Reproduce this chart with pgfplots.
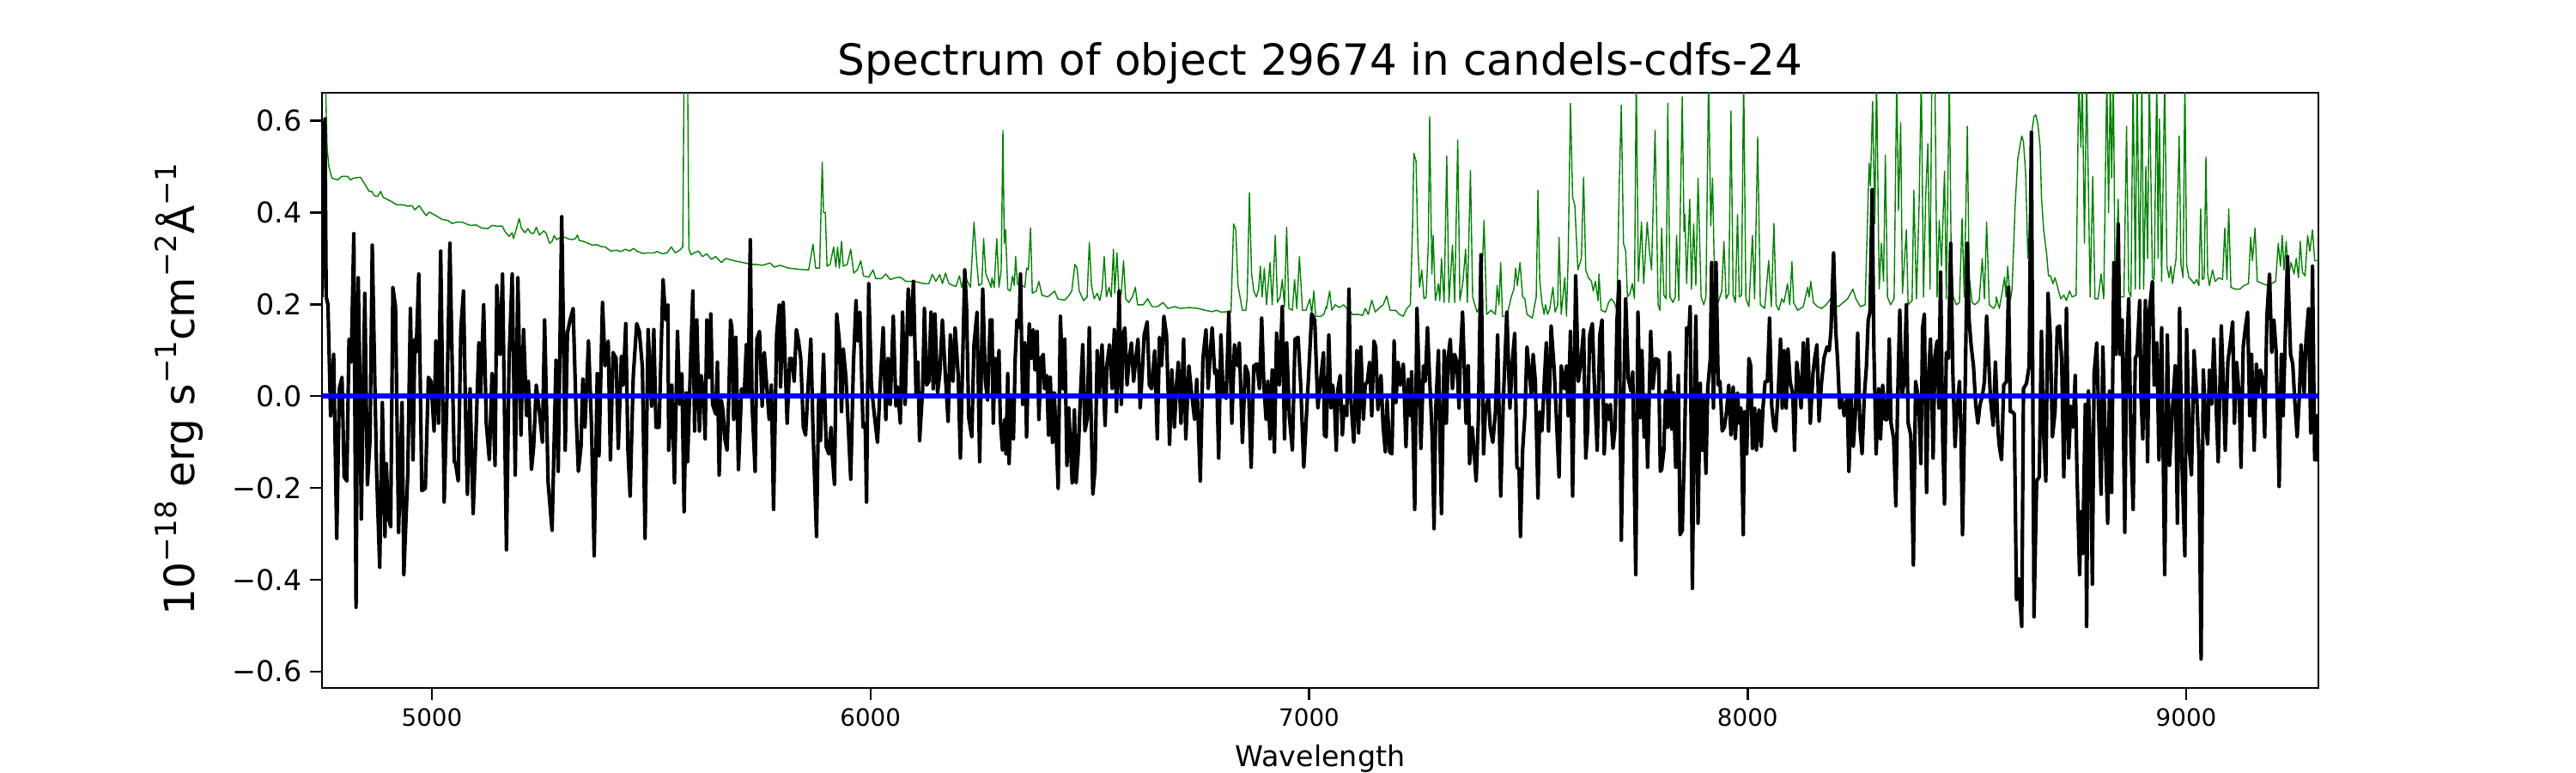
\documentclass[border=0pt]{standalone}
\usepackage{pgfplots}
\pgfplotsset{compat=1.18}
\usepackage{fontspec}
\setmainfont{DejaVu Sans}
\definecolor{mplgreen}{RGB}{0,128,0}
\newcommand\sups[1]{\raisebox{0.42em}{\fontsize{12.2pt}{12.2pt}\selectfont #1}}
\begin{document}
\begin{tikzpicture}
\path[use as bounding box] (0,0) rectangle (1080pt,324pt);
\begin{axis}[
  at={(135pt,35.64pt)}, anchor=south west,
  scale only axis, width=837pt, height=249.48pt,
  xmin=4749.4, xmax=9301.5, ymin=-0.636, ymax=0.661,
  axis line style={line width=0.9pt, black},
  tick align=outside, major tick length=5pt,
  every tick/.style={line width=0.9pt, black},
  xtick pos=bottom, ytick pos=left,
  xtick={5000,6000,7000,8000,9000},
  xticklabels={5000,6000,7000,8000,9000},
  ytick={-0.6,-0.4,-0.2,0,0.2,0.4,0.6},
  yticklabels={−0.6,−0.4,−0.2,0.0,0.2,0.4,0.6},
  scaled ticks=false,
  xticklabel style={font=\fontsize{10}{12}\selectfont},
  yticklabel style={font=\fontsize{12}{14}\selectfont},
  minor tick num=0,
  clip=true,
]
% green: error/sky spectrum
\addplot[mplgreen, line width=0.5pt, line join=round] coordinates {
(4749,0.70) (4757,0.70) (4761,0.542) (4765,0.500) (4772,0.475) (4785,0.471) (4795,0.479) (4808,0.479) (4814,0.471) (4821,0.475)
(4837,0.477) (4847,0.462) (4857,0.446) (4863,0.446) (4868,0.437) (4876,0.435) (4883,0.446) (4889,0.433) (4906,0.425) (4919,0.417)
(4932,0.417) (4945,0.414) (4955,0.415) (4961,0.406) (4971,0.415) (4981,0.401) (4987,0.393) (4994,0.401) (5004,0.396) (5013,0.391)
(5023,0.385) (5036,0.383) (5046,0.376) (5056,0.379) (5069,0.379) (5079,0.375) (5088,0.372) (5101,0.373) (5114,0.366) (5128,0.365)
(5137,0.372) (5150,0.370) (5160,0.371) (5167,0.358) (5176,0.348) (5183,0.356) (5186,0.343) (5193,0.366) (5199,0.387) (5204,0.366)
(5212,0.356) (5219,0.365) (5225,0.356) (5232,0.354) (5238,0.368) (5245,0.351) (5255,0.360) (5261,0.354) (5268,0.333) (5274,0.337)
(5279,0.350) (5284,0.341) (5294,0.346) (5304,0.346) (5310,0.343) (5320,0.341) (5327,0.343) (5332,0.351) (5336,0.339) (5346,0.337)
(5356,0.333) (5366,0.329) (5376,0.330) (5385,0.326) (5395,0.325) (5408,0.316) (5421,0.318) (5431,0.315) (5441,0.320) (5451,0.316)
(5460,0.322) (5467,0.316) (5480,0.311) (5493,0.312) (5506,0.312)
(5513,0.315) (5526,0.310) (5536,0.312) (5546,0.325) (5555,0.312) (5565,0.318) (5572,0.325) (5575,0.709) (5583,0.709) (5586,0.320)
(5591,0.308) (5598,0.312) (5608,0.316) (5617,0.304) (5627,0.310) (5637,0.298) (5647,0.304) (5660,0.291) (5670,0.300) (5689,0.295)
(5709,0.291) (5728,0.287) (5738,0.287) (5754,0.285) (5771,0.290) (5781,0.281) (5794,0.285) (5813,0.279) (5839,0.276) (5859,0.275)
(5869,0.331) (5875,0.279) (5884,0.279) (5890,0.510) (5893,0.400) (5897,0.400) (5901,0.283) (5908,0.287) (5916,0.325) (5921,0.281)
(5925,0.325) (5929,0.279) (5934,0.337) (5938,0.283) (5947,0.287) (5955,0.320) (5962,0.268) (5970,0.275) (5978,0.295) (5984,0.262)
(5996,0.259) (6006,0.275) (6012,0.256) (6025,0.256) (6035,0.266) (6045,0.254) (6058,0.258) (6068,0.259) (6081,0.250) (6100,0.250)
(6123,0.245) (6133,0.245) (6141,0.265) (6149,0.250) (6158,0.265) (6164,0.245) (6171,0.268) (6179,0.245) (6188,0.241) (6195,0.239)
(6203,0.262) (6208,0.237) (6215,0.266) (6221,0.250) (6228,0.237) (6236,0.379) (6243,0.283) (6247,0.241) (6254,0.245) (6258,0.343)
(6263,0.266) (6270,0.250) (6275,0.237)
(6277,0.258) (6282,0.237) (6288,0.343) (6293,0.237) (6298,0.275) (6302,0.579) (6305,0.333) (6308,0.362) (6313,0.233) (6319,0.229)
(6324,0.262) (6328,0.241) (6331,0.304) (6335,0.245) (6342,0.237) (6347,0.241) (6352,0.237) (6356,0.279) (6360,0.275) (6365,0.366)
(6369,0.224) (6378,0.229) (6384,0.250) (6391,0.220) (6404,0.216) (6414,0.224) (6420,0.229) (6427,0.212) (6443,0.209) (6453,0.220)
(6459,0.229) (6466,0.287) (6471,0.279) (6476,0.229) (6486,0.208) (6494,0.216) (6499,0.335) (6504,0.241) (6510,0.212) (6517,0.224)
(6523,0.208) (6528,0.233) (6533,0.304) (6538,0.216) (6544,0.237) (6549,0.216) (6554,0.320) (6557,0.224) (6562,0.312) (6567,0.216)
(6572,0.224) (6577,0.295) (6582,0.212) (6589,0.204) (6597,0.216) (6604,0.237) (6609,0.199) (6622,0.199) (6632,0.212) (6642,0.195)
(6655,0.195) (6667,0.204) (6678,0.191) (6694,0.195) (6707,0.191) (6727,0.193) (6747,0.191) (6763,0.187) (6779,0.184) (6789,0.187)
(6799,0.183) (6815,0.184) (6822,0.183) (6828,0.375) (6833,0.362) (6838,0.241) (6842,0.220) (6848,0.187) (6856,0.187) (6859,0.216)
(6864,0.443) (6869,0.266) (6874,0.229) (6880,0.216) (6885,0.233) (6889,0.283) (6893,0.216) (6898,0.279) (6903,0.199) (6911,0.291)
(6916,0.199) (6923,0.350) (6928,0.204) (6934,0.216) (6939,0.254) (6944,0.195) (6949,0.368) (6954,0.191) (6962,0.187) (6967,0.254)
(6972,0.191) (6978,0.304) (6985,0.187) (6993,0.187) (7002,0.212) (7006,0.179) (7011,0.229) (7015,0.174) (7027,0.174) (7034,0.179)
(7039,0.195)
(7040,0.191) (7047,0.229) (7052,0.187) (7060,0.199) (7069,0.193) (7079,0.199) (7086,0.191) (7099,0.178) (7112,0.178) (7122,0.176)
(7128,0.191) (7135,0.178) (7143,0.209) (7151,0.183) (7161,0.193) (7169,0.199) (7177,0.218) (7185,0.187) (7197,0.187) (7206,0.178)
(7215,0.174) (7223,0.191) (7231,0.199) (7236,0.366) (7239,0.529) (7244,0.512) (7248,0.333) (7252,0.237) (7257,0.275) (7262,0.212)
(7267,0.216) (7272,0.333) (7275,0.609) (7280,0.266) (7283,0.350) (7288,0.208) (7295,0.245) (7298,0.208) (7302,0.300) (7308,0.204)
(7314,0.523) (7319,0.204) (7327,0.329) (7332,0.204) (7339,0.558) (7344,0.208) (7351,0.250) (7357,0.320) (7361,0.204) (7368,0.492)
(7373,0.216) (7383,0.183) (7392,0.199) (7399,0.383) (7405,0.178) (7415,0.187) (7425,0.178) (7429,0.241) (7433,0.199) (7437,0.291)
(7441,0.174) (7451,0.174) (7461,0.216) (7467,0.233) (7471,0.279) (7475,0.241) (7481,0.291) (7487,0.216) (7492,0.212) (7497,0.178)
(7509,0.170) (7518,0.216) (7522,0.448) (7526,0.254) (7531,0.204) (7536,0.178) (7539,0.199) (7544,0.178) (7549,0.191) (7556,0.237)
(7561,0.183) (7567,0.199) (7570,0.346) (7575,0.178) (7583,0.258) (7587,0.174) (7591,0.308) (7596,0.638) (7601,0.433) (7606,0.416)
(7613,0.275) (7621,0.300) (7626,0.477) (7631,0.275) (7637,0.258) (7644,0.250) (7648,0.229) (7653,0.250) (7659,0.208) (7661,0.266)
(7666,0.187) (7676,0.183) (7683,0.204) (7689,0.212) (7696,0.204) (7702,0.187) (7707,0.450) (7712,0.634) (7717,0.333) (7722,0.316)
(7726,0.216) (7732,0.224) (7737,0.245) (7742,0.212) (7746,0.700) (7751,0.250) (7758,0.379) (7763,0.245) (7771,0.379) (7776,0.316)
(7781,0.275) (7789,0.579) (7796,0.199) (7800,0.187)
(7804,0.366) (7809,0.220) (7814,0.212) (7818,0.638) (7823,0.216) (7830,0.204) (7835,0.216) (7838,0.350) (7843,0.208) (7851,0.652)
(7855,0.358) (7857,0.396) (7861,0.245) (7868,0.429) (7872,0.233) (7877,0.375) (7882,0.241) (7887,0.475) (7894,0.216) (7900,0.199)
(7905,0.216) (7911,0.700) (7916,0.371) (7920,0.475) (7925,0.233) (7933,0.204) (7941,0.229) (7946,0.337) (7951,0.212) (7957,0.224)
(7962,0.621) (7967,0.220) (7972,0.204) (7977,0.396) (7981,0.216) (7986,0.220) (7991,0.700) (7996,0.212) (8003,0.195) (8011,0.350)
(8016,0.212) (8023,0.565) (8029,0.199) (8039,0.191) (8048,0.295) (8054,0.195) (8060,0.376) (8065,0.199) (8071,0.187) (8078,0.212)
(8083,0.204) (8091,0.245) (8096,0.199) (8101,0.293) (8105,0.204) (8114,0.187) (8127,0.195) (8137,0.237) (8140,0.216) (8144,0.250)
(8150,0.204) (8159,0.195) (8169,0.191) (8179,0.199) (8189,0.212) (8195,0.199) (8207,0.195) (8218,0.204) (8228,0.212) (8240,0.233)
(8247,0.212) (8257,0.195) (8268,0.199) (8277,0.508) (8280,0.458) (8285,0.642) (8290,0.375) (8294,0.700) (8300,0.233) (8305,0.333)
(8310,0.250) (8314,0.525) (8319,0.216) (8326,0.199) (8334,0.212) (8340,0.700) (8344,0.404) (8349,0.596) (8353,0.224) (8362,0.362)
(8366,0.199) (8375,0.208) (8379,0.448) (8385,0.212) (8391,0.416) (8396,0.700) (8401,0.216) (8406,0.433) (8411,0.550) (8416,0.233)
(8420,0.700) (8427,0.700) (8432,0.216) (8437,0.383) (8442,0.283) (8449,0.490) (8453,0.212) (8460,0.700) (8464,0.316) (8469,0.216)
(8476,0.199) (8483,0.204) (8489,0.387) (8494,0.216) (8501,0.588) (8505,0.262) (8512,0.204) (8518,0.199) (8528,0.208) (8535,0.300)
(8540,0.212) (8545,0.379) (8551,0.199) (8561,0.191) (8566,0.199)
(8567,0.216) (8574,0.191) (8580,0.224) (8586,0.259) (8589,0.216) (8593,0.283) (8599,0.208) (8603,0.233) (8610,0.416) (8616,0.517)
(8625,0.567) (8629,0.554) (8634,0.483) (8639,0.300) (8644,0.400) (8649,0.583) (8653,0.609) (8657,0.613) (8662,0.592) (8667,0.542)
(8670,0.433) (8675,0.362) (8682,0.308) (8686,0.262) (8691,0.262) (8696,0.245) (8701,0.258) (8708,0.233) (8714,0.212) (8721,0.220)
(8727,0.208) (8734,0.229) (8740,0.216) (8749,0.220) (8755,0.700) (8760,0.542) (8763,0.700) (8768,0.333) (8773,0.700) (8777,0.458)
(8781,0.216) (8787,0.479) (8792,0.212) (8799,0.212) (8806,0.266) (8812,0.212) (8819,0.700) (8823,0.400) (8827,0.700) (8830,0.475)
(8834,0.700) (8838,0.216) (8845,0.429) (8849,0.216) (8858,0.216) (8864,0.588) (8869,0.229) (8874,0.216) (8879,0.700) (8884,0.233)
(8888,0.700) (8894,0.233) (8899,0.700) (8903,0.233) (8908,0.500) (8912,0.300) (8916,0.700) (8923,0.258) (8927,0.254) (8933,0.700)
(8936,0.300) (8939,0.604) (8944,0.250) (8951,0.700) (8956,0.283) (8961,0.258) (8965,0.283) (8969,0.245) (8973,0.275) (8977,0.300)
(8984,0.567) (8988,0.287) (8993,0.258) (8997,0.700) (9001,0.287) (9006,0.258) (9011,0.254) (9018,0.245) (9024,0.254) (9029,0.241)
(9033,0.408) (9037,0.254) (9041,0.258) (9045,0.521) (9049,0.266) (9053,0.241) (9060,0.275) (9066,0.250) (9075,0.258) (9083,0.254)
(9088,0.366) (9093,0.254) (9097,0.408) (9102,0.237) (9112,0.233) (9122,0.233) (9132,0.241) (9142,0.245) (9147,0.346) (9151,0.295)
(9157,0.366) (9162,0.250) (9174,0.245) (9187,0.241) (9194,0.245) (9204,0.250) (9210,0.333) (9215,0.283) (9219,0.350) (9223,0.275)
(9228,0.337) (9233,0.258) (9239,0.291) (9246,0.266) (9251,0.300) (9256,0.258) (9260,0.337) (9265,0.270) (9271,0.262) (9277,0.350)
(9282,0.316) (9288,0.362) (9293,0.295) (9298,0.295) (9301,0.295)
};
% black: object spectrum
\addplot[black, line width=1.5pt, line join=round] coordinates {
(4749,0.216) (4756,0.604) (4759,0.216) (4763,0.199) (4769,-0.043) (4776,0.091) (4783,-0.310) (4789,0.016) (4795,0.041) (4800,-0.176)
(4806,-0.185) (4811,0.124) (4816,0.074) (4822,0.354) (4827,-0.460) (4832,0.258) (4835,0.082) (4839,-0.268) (4847,0.224) (4853,-0.193)
(4859,-0.093) (4864,0.329) (4870,0.024) (4874,-0.168) (4881,-0.373) (4887,-0.014) (4893,-0.306) (4896,-0.147) (4901,-0.264) (4906,-0.285)
(4911,0.237) (4917,0.195) (4924,-0.297) (4932,-0.014) (4936,-0.389) (4945,-0.168) (4951,0.191) (4957,-0.139) (4961,0.124) (4964,0.095)
(4970,0.266) (4977,-0.206) (4985,-0.201) (4992,0.041) (4998,0.032) (5005,-0.076) (5009,0.120) (5015,-0.059) (5020,0.316) (5028,-0.231)
(5035,0.024) (5041,0.333) (5046,0.082) (5051,-0.143) (5054,-0.147) (5060,-0.185) (5066,0.145) (5072,0.229) (5077,-0.051) (5081,-0.214)
(5087,0.016) (5094,-0.256) (5100,-0.097) (5107,0.116) (5111,0.000) (5118,0.199) (5124,-0.059) (5131,-0.139) (5137,0.049) (5144,-0.151)
(5148,0.241) (5155,0.091) (5161,0.266) (5170,-0.335) (5176,0.082) (5183,0.266) (5190,-0.172) (5196,0.258) (5203,-0.085) (5209,0.145)
(5216,-0.043) (5220,0.032) (5227,-0.160) (5232,-0.110) (5238,0.024) (5245,-0.034) (5252,-0.101) (5257,0.166) (5265,-0.189) (5274,-0.293)
(5283,0.078) (5288,-0.164) (5296,0.391) (5304,-0.118) (5309,0.137) (5315,0.166) (5322,0.191) (5329,-0.043) (5334,-0.164) (5340,-0.110)
(5344,0.037) (5349,-0.068) (5357,0.120) (5364,-0.068) (5370,-0.348) (5377,0.049) (5381,-0.130) (5389,0.204) (5395,0.066) (5402,0.120)
(5407,-0.139) (5413,0.095) (5420,0.082) (5425,-0.114) (5432,0.087) (5436,0.024) (5442,0.158) (5447,-0.118) (5452,-0.218) (5459,0.041)
(5467,0.158) (5473,0.141) (5480,0.062) (5486,-0.310) (5493,0.145) (5501,-0.022) (5506,0.145) (5511,-0.068)
(5518,-0.068) (5527,0.254) (5533,0.166) (5538,0.199) (5540,-0.118) (5547,0.024) (5553,-0.189) (5560,0.141) (5565,-0.018) (5570,0.049)
(5575,-0.252) (5580,0.007) (5583,-0.143) (5590,0.082) (5595,0.229) (5599,-0.076) (5604,0.166) (5610,-0.076) (5614,0.045) (5619,0.007)
(5623,-0.093) (5627,0.166) (5632,0.041) (5636,0.179) (5640,-0.018) (5647,-0.039) (5651,0.074) (5655,-0.172) (5660,-0.009) (5664,-0.034)
(5668,-0.093) (5673,-0.118) (5677,-0.001) (5681,0.166) (5684,0.149) (5688,-0.051) (5693,0.128) (5699,-0.160) (5706,0.016) (5712,-0.001)
(5717,0.112) (5721,0.007) (5726,0.341) (5730,-0.018) (5737,-0.164) (5741,0.124) (5747,0.141) (5753,-0.022) (5758,0.095) (5762,0.041)
(5769,-0.051) (5774,0.024) (5779,-0.247) (5786,0.133) (5792,0.199) (5795,0.020) (5801,0.204) (5810,-0.059) (5816,0.082) (5821,0.082)
(5826,0.032) (5831,0.145) (5836,0.120) (5841,0.082) (5847,-0.068) (5852,-0.085) (5858,0.024) (5864,0.124) (5869,-0.076) (5877,-0.306)
(5882,0.003) (5886,-0.097) (5893,0.091) (5899,-0.110) (5905,-0.126) (5910,-0.068) (5912,-0.118) (5918,-0.193) (5923,0.179) (5929,0.120)
(5934,-0.034) (5938,0.103) (5944,0.041) (5949,-0.059) (5955,-0.181) (5961,0.066) (5967,0.208) (5971,0.120) (5976,0.183) (5983,-0.068)
(5988,-0.059) (5991,-0.231) (5996,0.245) (6002,0.024) (6008,-0.034) (6016,-0.101) (6022,0.020) (6029,0.149) (6035,-0.051) (6040,0.082)
(6045,-0.018) (6052,0.174) (6058,-0.022) (6062,0.020) (6068,-0.059) (6073,0.183) (6079,-0.018) (6086,0.233) (6092,0.133) (6098,0.250)
(6104,-0.001) (6108,0.074) (6112,-0.097) (6119,0.016) (6123,0.191) (6128,0.024) (6133,0.032) (6138,0.183) (6143,0.016) (6147,0.179)
(6153,0.007) (6158,0.049) (6164,0.166) (6171,0.041) (6177,-0.055) (6182,0.133) (6188,0.032) (6193,0.149) (6200,0.045) (6205,-0.135)
(6210,0.066) (6215,0.275) (6219,0.195) (6224,-0.047) (6231,-0.089) (6236,0.112) (6243,0.183) (6249,-0.143) (6256,0.233) (6262,0.032)
(6267,-0.009) (6273,0.166)
(6277,0.166) (6280,-0.059) (6284,0.082) (6288,0.007) (6293,0.099) (6296,-0.051) (6301,-0.118) (6306,-0.051) (6309,-0.126) (6313,0.049)
(6316,-0.147) (6321,-0.001) (6326,-0.093) (6330,0.082) (6334,0.166) (6339,0.149) (6342,0.266) (6347,-0.018) (6352,0.116) (6356,-0.089)
(6362,0.158) (6367,0.082) (6371,0.145) (6375,0.057) (6380,0.141) (6384,-0.051) (6389,0.082) (6394,0.091) (6397,0.016) (6402,0.045)
(6406,-0.085) (6410,0.041) (6415,-0.101) (6419,0.007) (6424,-0.101) (6428,-0.201) (6433,0.174) (6439,0.016) (6443,0.124) (6448,-0.151)
(6452,-0.026) (6454,-0.068) (6460,-0.189) (6465,-0.030) (6469,-0.189) (6474,-0.118) (6479,0.007) (6484,0.112) (6489,-0.076) (6494,-0.051)
(6499,0.149) (6502,0.007) (6507,-0.214) (6512,-0.160) (6517,0.099) (6522,0.007) (6528,0.112) (6535,-0.064) (6539,0.066) (6545,0.112)
(6551,0.016) (6556,0.145) (6561,-0.034) (6567,0.229) (6572,-0.018) (6576,0.133) (6580,0.149) (6585,0.024) (6590,0.082) (6595,0.116)
(6600,0.032) (6605,0.082) (6610,0.124) (6615,-0.026) (6620,0.057) (6624,0.133) (6631,0.162) (6636,0.024) (6641,0.016) (6648,0.099)
(6654,-0.093) (6659,0.128) (6664,0.066) (6669,0.174) (6675,0.133) (6682,-0.105) (6687,0.057) (6693,-0.068) (6698,0.028) (6702,0.074)
(6708,-0.059) (6714,0.124) (6719,-0.093) (6726,0.066) (6732,0.007) (6739,-0.051) (6744,0.037) (6752,-0.185) (6758,0.082) (6765,0.145)
(6770,0.016) (6774,0.082) (6779,0.149) (6785,0.049) (6789,0.057) (6794,-0.135) (6799,0.133) (6804,0.007) (6811,-0.005) (6817,0.183)
(6824,-0.059) (6830,0.112) (6837,0.066) (6841,0.116) (6848,-0.101) (6855,0.066) (6861,0.049) (6868,-0.155) (6874,0.066) (6881,0.070)
(6887,0.016) (6892,0.170) (6897,0.024) (6902,-0.051) (6906,0.032) (6911,-0.093) (6916,0.057) (6921,-0.122) (6926,0.137) (6932,0.024)
(6939,0.195) (6944,-0.093) (6949,0.116) (6955,-0.043) (6962,-0.118) (6968,0.124) (6975,0.128) (6981,0.024) (6988,-0.155) (6994,-0.043)
(6999,0.045) (7006,0.179) (7013,0.166) (7020,-0.026) (7026,0.032) (7033,0.095) (7035,-0.085) (7039,-0.089)
(7045,0.133) (7050,-0.026) (7054,0.024) (7058,-0.018) (7062,-0.118) (7066,0.016) (7071,0.045) (7076,-0.085) (7080,-0.022) (7086,-0.043)
(7091,0.233) (7095,-0.001) (7102,-0.101) (7109,0.099) (7113,-0.080) (7118,0.107) (7124,-0.051) (7128,0.024) (7133,0.032) (7138,0.074)
(7143,-0.043) (7148,0.120) (7152,0.107) (7157,-0.030) (7164,0.045) (7169,-0.068) (7174,-0.122) (7178,-0.009) (7184,-0.122) (7189,-0.126)
(7194,0.120) (7198,-0.014) (7203,0.074) (7208,0.024) (7215,0.070) (7221,-0.110) (7226,0.037) (7231,-0.043) (7234,0.053) (7241,-0.247)
(7246,0.191) (7250,0.070) (7255,-0.114) (7261,0.066) (7265,0.032) (7270,0.149) (7276,0.016) (7281,-0.093) (7285,-0.289) (7289,-0.026)
(7295,0.099) (7298,-0.068) (7302,-0.256) (7308,0.099) (7313,-0.059) (7317,0.082) (7322,0.124) (7327,0.016) (7332,0.091) (7337,0.074)
(7342,-0.026) (7345,0.082) (7350,0.183) (7355,0.032) (7358,-0.059) (7363,0.066) (7366,-0.147) (7372,-0.068) (7376,-0.118) (7381,-0.185)
(7386,-0.051) (7392,0.308) (7398,-0.126) (7402,-0.034) (7409,-0.001) (7413,-0.068) (7419,-0.101) (7425,-0.034) (7430,0.133) (7437,-0.218)
(7443,-0.009) (7451,0.183) (7458,-0.026) (7464,0.082) (7469,0.137) (7474,-0.155) (7479,-0.160) (7482,-0.306) (7487,-0.118) (7492,-0.043)
(7497,0.107) (7502,0.057) (7507,-0.001) (7511,0.091) (7516,0.032) (7522,-0.222) (7526,-0.034) (7531,-0.076) (7536,0.024) (7541,0.116)
(7546,-0.076) (7552,0.153) (7559,0.057) (7563,-0.026) (7570,-0.176) (7575,0.066) (7582,0.016) (7587,0.066) (7591,-0.043) (7596,0.141)
(7601,-0.218) (7608,0.262) (7614,0.032) (7620,0.074) (7626,0.145) (7631,-0.135) (7635,-0.076) (7640,0.133) (7646,0.158) (7650,0.041)
(7657,-0.118) (7663,0.133) (7668,0.166) (7673,-0.126) (7678,-0.018) (7683,-0.051) (7687,-0.018) (7693,-0.114) (7698,-0.068) (7702,0.162)
(7707,0.250) (7712,-0.314) (7717,-0.026) (7722,0.212) (7728,0.037) (7734,0.011) (7738,0.053) (7745,-0.389) (7750,0.183) (7755,-0.047)
(7759,0.099) (7764,-0.089) (7768,-0.001) (7772,-0.155) (7779,0.141) (7784,0.016) (7790,0.082) (7797,0.078) (7801,-0.164)
(7804,-0.160) (7809,-0.118) (7813,0.011) (7818,-0.068) (7822,0.095) (7827,-0.072) (7831,0.007) (7836,-0.155) (7842,0.045) (7846,-0.302)
(7851,-0.293) (7856,-0.114) (7861,0.149) (7866,0.133) (7869,0.195) (7874,-0.419) (7879,0.007) (7882,0.174) (7887,-0.277) (7892,0.028)
(7896,-0.118) (7900,-0.009) (7905,-0.168) (7909,0.016) (7915,0.082) (7918,0.291) (7922,-0.026) (7928,0.291) (7933,0.024) (7937,0.032)
(7942,-0.076) (7947,-0.068) (7952,-0.034) (7957,0.024) (7962,-0.085) (7967,0.020) (7972,-0.093) (7977,0.007) (7981,-0.059) (7985,-0.026)
(7990,-0.302) (7993,-0.034) (7998,-0.126) (8003,0.082) (8007,0.066) (8011,-0.114) (8016,-0.026) (8020,-0.118) (8026,-0.030) (8031,-0.110)
(8035,-0.026) (8040,0.032) (8045,0.032) (8050,0.170) (8055,-0.022) (8060,-0.068) (8064,-0.076) (8070,0.011) (8075,0.124) (8079,-0.026)
(8083,0.099) (8088,-0.026) (8092,0.103) (8097,0.032) (8103,0.003) (8107,-0.118) (8112,0.074) (8117,0.032) (8122,-0.026) (8127,0.116)
(8132,0.007) (8137,0.124) (8143,-0.059) (8149,0.049) (8153,0.082) (8158,0.112) (8163,-0.055) (8168,0.024) (8174,0.082) (8181,0.107)
(8186,0.099) (8190,0.141) (8196,0.312) (8201,0.141) (8205,0.082) (8210,-0.026) (8215,-0.005) (8220,-0.043) (8227,-0.001) (8231,-0.164)
(8236,-0.001) (8241,-0.110) (8246,-0.034) (8251,0.137) (8256,-0.068) (8261,-0.126) (8266,-0.001) (8271,0.066) (8275,0.166) (8279,0.183)
(8284,0.450) (8288,0.099) (8293,-0.126) (8299,0.016) (8303,-0.093) (8308,0.024) (8313,-0.051) (8318,-0.051) (8323,0.124) (8327,-0.059)
(8333,-0.093) (8338,-0.239) (8342,-0.009) (8347,0.187) (8352,-0.001) (8357,0.032) (8362,0.199) (8366,-0.059) (8372,-0.085) (8378,-0.368)
(8383,0.032) (8390,-0.009) (8395,-0.147) (8399,0.149) (8403,0.179) (8408,-0.210) (8412,0.032) (8417,0.124) (8423,-0.135) (8427,0.087)
(8432,0.120) (8436,-0.026) (8440,0.270) (8445,-0.101) (8449,-0.235) (8453,0.095) (8458,0.082) (8463,0.333) (8468,0.049) (8473,-0.110)
(8477,-0.034) (8483,0.032) (8486,-0.059) (8490,-0.302) (8496,0.016) (8501,0.333) (8505,0.166) (8510,0.107) (8515,0.066) (8520,-0.018)
(8525,-0.059) (8530,-0.018) (8535,-0.001) (8540,0.032) (8545,0.174) (8549,0.091) (8554,-0.009) (8560,-0.064) (8565,0.074)
(8571,-0.076) (8574,-0.110) (8579,-0.139) (8584,0.024) (8590,0.032) (8595,0.237) (8599,-0.034) (8603,-0.034) (8608,-0.039) (8613,-0.444)
(8618,-0.398) (8625,-0.502) (8629,0.016) (8636,0.028) (8642,0.066) (8647,0.575) (8653,-0.481) (8659,-0.185) (8665,-0.176) (8670,0.141)
(8675,-0.085) (8680,-0.185) (8685,0.224) (8690,0.133) (8695,-0.089) (8701,-0.034) (8706,0.149) (8711,0.153) (8716,0.082) (8721,-0.176)
(8727,0.191) (8732,-0.135) (8737,-0.022) (8742,-0.068) (8747,0.045) (8751,-0.168) (8757,-0.389) (8760,-0.252) (8764,-0.343) (8770,-0.018)
(8773,-0.502) (8777,0.011) (8783,-0.172) (8786,-0.410) (8790,0.049) (8796,0.116) (8801,-0.059) (8806,-0.214) (8810,0.107) (8815,-0.076)
(8821,-0.277) (8825,0.011) (8830,-0.210) (8835,0.291) (8840,0.091) (8845,0.375) (8849,0.091) (8854,0.166) (8860,-0.297) (8864,0.082)
(8869,0.212) (8874,-0.101) (8879,-0.247) (8884,0.082) (8888,0.091) (8894,0.208) (8897,-0.001) (8901,-0.093) (8907,0.208) (8912,-0.143)
(8916,0.187) (8923,0.250) (8927,0.024) (8933,0.116) (8938,-0.139) (8944,0.149) (8951,-0.389) (8957,0.133) (8962,-0.151) (8967,-0.059)
(8971,0.007) (8975,0.066) (8980,-0.277) (8985,0.191) (8990,-0.135) (8997,-0.348) (9001,0.145) (9008,-0.126) (9012,-0.172) (9018,0.099)
(9024,-0.001) (9029,-0.126) (9034,-0.573) (9039,0.057) (9044,-0.051) (9049,-0.105) (9053,0.057) (9058,-0.018) (9063,0.124) (9068,-0.014)
(9073,-0.143) (9080,0.153) (9084,0.049) (9089,-0.118) (9095,0.074) (9101,0.120) (9106,0.162) (9110,-0.059) (9115,0.074) (9121,-0.001)
(9125,-0.155) (9130,0.107) (9135,0.149) (9140,0.183) (9145,-0.043) (9149,0.091) (9155,-0.118) (9160,0.070) (9164,0.007) (9169,0.057)
(9174,0.037) (9179,-0.089) (9184,0.174) (9190,0.266) (9195,0.095) (9200,0.166) (9205,0.099) (9212,-0.197) (9217,0.091) (9221,-0.043)
(9226,0.133) (9231,0.304) (9238,0.091) (9243,0.070) (9247,-0.001) (9253,-0.089) (9258,-0.001) (9262,0.112) (9269,0.007) (9273,0.120)
(9279,0.191) (9284,-0.080) (9288,0.283) (9293,-0.139) (9297,-0.043) (9301,-0.143)
};
% blue: zero model
\addplot[blue, line width=2pt] coordinates {(4749.4,0) (9301.5,0)};
\end{axis}
\node[anchor=base, font=\fontsize{18}{22}\selectfont] at (553.5pt,292.5pt) {Spectrum of object 29674 in candels-cdfs-24};
\node[anchor=base, font=\fontsize{12}{14}\selectfont] at (553.5pt,2.6pt) {Wavelength};
\node[anchor=base, rotate=90, font=\fontsize{17.5}{21}\selectfont] at (81.4pt,160.9pt) {10\sups{−18} erg s\sups{−1}cm\sups{−2}Å\sups{−1}};
\end{tikzpicture}
\end{document}
